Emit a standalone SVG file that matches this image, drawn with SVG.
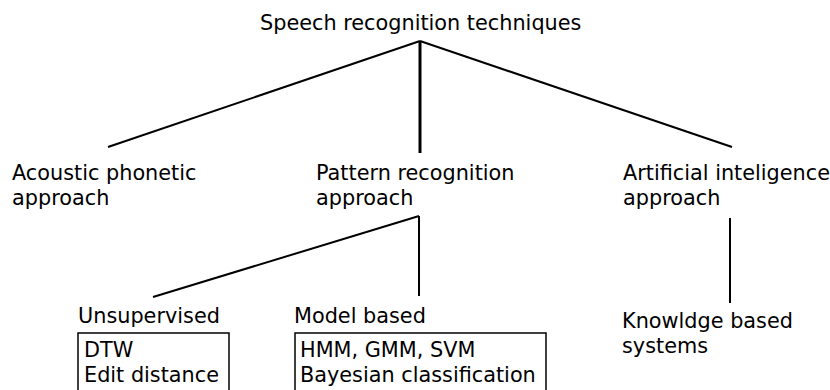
<svg xmlns="http://www.w3.org/2000/svg" width="830" height="390" viewBox="0 0 830 390">
  <style>
    text { font-family: "DejaVu Sans", sans-serif; font-size: 20.8px; fill: #000; }
    .edge { stroke: #000; stroke-width: 2; fill: none; }
    .thick { stroke-width: 3; }
    .box { stroke: #000; stroke-width: 1.5; fill: #fff; }
  </style>
  <rect width="830" height="390" fill="#fff"/>

  <g id="connectors">
    <line class="edge" x1="420" y1="41" x2="108" y2="147"/>
    <line class="edge" x1="420" y1="41" x2="732" y2="147"/>
    <line class="edge thick" x1="420" y1="41" x2="420" y2="153"/>
    <line class="edge" x1="419" y1="216" x2="153" y2="297"/>
    <line class="edge" x1="419" y1="216" x2="419" y2="296"/>
    <line class="edge" x1="730" y1="218" x2="730" y2="303"/>
  </g>

  <g id="root">
    <text x="260" y="30">Speech recognition techniques</text>
  </g>

  <g id="acoustic">
    <text x="12" y="180">Acoustic phonetic</text>
    <text x="12" y="205">approach</text>
  </g>

  <g id="pattern">
    <text x="316" y="180">Pattern recognition</text>
    <text x="316" y="205">approach</text>
  </g>

  <g id="ai">
    <text x="623" y="180">Artificial inteligence</text>
    <text x="623" y="205">approach</text>
  </g>

  <g id="unsupervised">
    <text x="78" y="323">Unsupervised</text>
    <rect class="box" x="78" y="333" width="151" height="70"/>
    <text x="84" y="357">DTW</text>
    <text x="84" y="382">Edit distance</text>
  </g>

  <g id="model">
    <text x="294" y="323">Model based</text>
    <rect class="box" x="295" y="333" width="251" height="70"/>
    <text x="300" y="357">HMM, GMM, SVM</text>
    <text x="300" y="382">Bayesian classification</text>
  </g>

  <g id="knowledge">
    <text x="622" y="328">Knowldge based</text>
    <text x="622" y="353">systems</text>
  </g>
</svg>
